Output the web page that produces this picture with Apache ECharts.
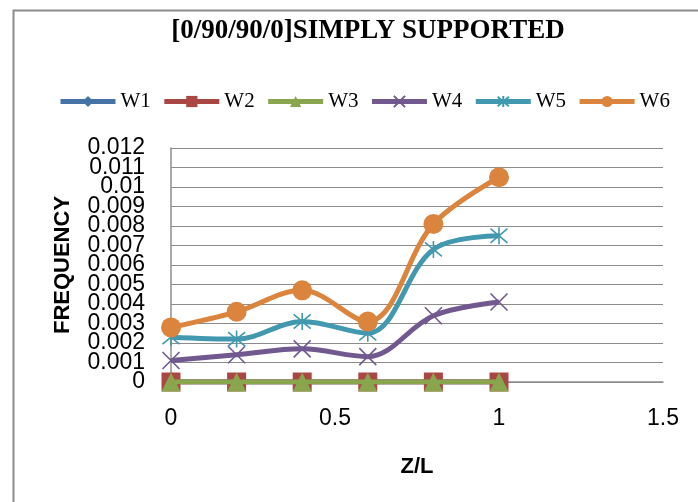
<!DOCTYPE html>
<html>
<head>
<meta charset="utf-8">
<script src="https://cdn.jsdelivr.net/npm/echarts@6/dist/echarts.min.js"></script>
<style>
  html, body { margin: 0; padding: 0; background: #fff; }
  #chart { width: 698px; height: 502px; }
</style>
</head>
<body>
<div id="chart"></div>
<script>
// Position along the span
const zL = [0, 0.2, 0.4, 0.6, 0.8, 1];

// Frequencies for each mode
const w1 = [0, 0, 0, 0, 0, 0];
const w2 = [0, 0, 0, 0, 0, 0];
const w3 = [0, 0, 0, 0, 0, 0];
const w4 = [0.0011, 0.0014, 0.0017, 0.0013, 0.0034, 0.0041];
const w5 = [0.0023, 0.0022, 0.0031, 0.0025, 0.0068, 0.0075];
const w6 = [0.0028, 0.0036, 0.0047, 0.0031, 0.0081, 0.0105];

const seriesNames = ['W1', 'W2', 'W3', 'W4', 'W5', 'W6'];
const seriesValues = [w1, w2, w3, w4, w5, w6];
const seriesColors = ['#4572A7', '#AA4643', '#89A54E', '#71588F', '#4198AF', '#DB843D'];

const Y_MIN = 0, Y_MAX = 0.012, Y_STEP = 0.001;

const crossPath = 'path://M0,0L10,10M10,0L0,10';
const starPath = 'path://M0,0L10,10M10,0L0,10M5,-1L5,11';
const markers = [
  { symbol: 'diamond', size: 12, stroke: false },
  { symbol: 'rect', size: 19, stroke: false },
  { symbol: 'triangle', size: 19, stroke: false },
  { symbol: crossPath, size: 17, stroke: true },
  { symbol: starPath, size: 17, stroke: true },
  { symbol: 'circle', size: 20, stroke: false }
];

const fmt = v => String(+v.toFixed(3));
const isEnd = v => Math.abs(v - Y_MIN) < 1e-9 || Math.abs(v - Y_MAX) < 1e-9;
const labelFont = { fontFamily: 'Liberation Sans', fontSize: 23, color: '#000' };

const chart = echarts.init(document.getElementById('chart'), null, { renderer: 'canvas' });

const series = seriesNames.map((name, i) => ({
  name: name,
  type: 'line',
  smooth: 0.35,
  yAxisIndex: 0,
  data: zL.map((x, j) => [x, seriesValues[i][j]]),
  symbol: markers[i].symbol,
  symbolSize: markers[i].size,
  showSymbol: true,
  lineStyle: { color: seriesColors[i], width: 5 },
  itemStyle: markers[i].stroke
    ? { color: seriesColors[i], borderColor: seriesColors[i], borderWidth: 1.6 }
    : { color: seriesColors[i], borderWidth: 0 },
  z: 2 + i,
  animation: false
}));

chart.setOption({
  backgroundColor: '#ffffff',
  animation: false,
  graphic: [{
    type: 'rect',
    left: 11, top: 8,
    shape: { width: 800, height: 700 },
    style: { fill: 'none', stroke: '#8c8c8c', lineWidth: 2 },
    silent: true
  }],
  title: {
    text: '[0/90/90/0]SIMPLY SUPPORTED',
    left: 363, top: 13,
    textAlign: 'center',
    textStyle: { fontFamily: 'Liberation Serif', fontWeight: 'bold', fontSize: 27, color: '#000' }
  },
  legend: {
    top: 91, left: 58,
    padding: 0,
    itemWidth: 55, itemHeight: 14,
    itemGap: 11,
    data: seriesNames,
    lineStyle: { width: 5 },
    textStyle: { fontFamily: 'Liberation Serif', fontSize: 21, color: '#000' }
  },
  grid: { left: 171, right: 35, top: 148, bottom: 120, containLabel: false },
  xAxis: {
    type: 'value',
    min: 0, max: 1.5, interval: 0.5,
    name: 'Z/L',
    nameLocation: 'middle',
    nameGap: 74,
    nameTextStyle: { fontFamily: 'Liberation Sans', fontWeight: 'bold', fontSize: 22, color: '#000' },
    axisLine: { show: true, onZero: false, lineStyle: { color: '#8c8c8c', width: 1.5 } },
    axisTick: { show: false },
    splitLine: { show: false },
    axisLabel: Object.assign({ margin: 25 }, labelFont)
  },
  yAxis: [
    {
      // main axis: line, grid and the inner tick labels
      type: 'value',
      position: 'left',
      min: Y_MIN, max: Y_MAX, interval: Y_STEP,
      name: 'FREQUENCY',
      nameLocation: 'middle',
      nameGap: 97,
      nameRotate: 90,
      nameTextStyle: { fontFamily: 'Liberation Sans', fontWeight: 'bold', fontSize: 22, color: '#000' },
      axisLine: { show: true, lineStyle: { color: '#8c8c8c', width: 1.5 } },
      axisTick: { show: false },
      splitLine: { show: true, lineStyle: { color: '#8c8c8c', width: 1.2 } },
      axisLabel: Object.assign({
        margin: 26,
        showMinLabel: false, showMaxLabel: false,
        formatter: v => isEnd(v) ? '' : fmt(v)
      }, labelFont)
    },
    {
      // companion axis on the same scale carrying the end labels
      type: 'value',
      position: 'left',
      offset: 0,
      min: Y_MIN, max: Y_MAX, interval: Y_STEP,
      axisLine: { show: false },
      axisTick: { show: false },
      splitLine: { show: false },
      axisLabel: Object.assign({
        margin: 26,
        showMinLabel: true, showMaxLabel: true,
        formatter: v => isEnd(v) ? fmt(v) : ''
      }, labelFont)
    }
  ],
  series: series
});
</script>
</body>
</html>
